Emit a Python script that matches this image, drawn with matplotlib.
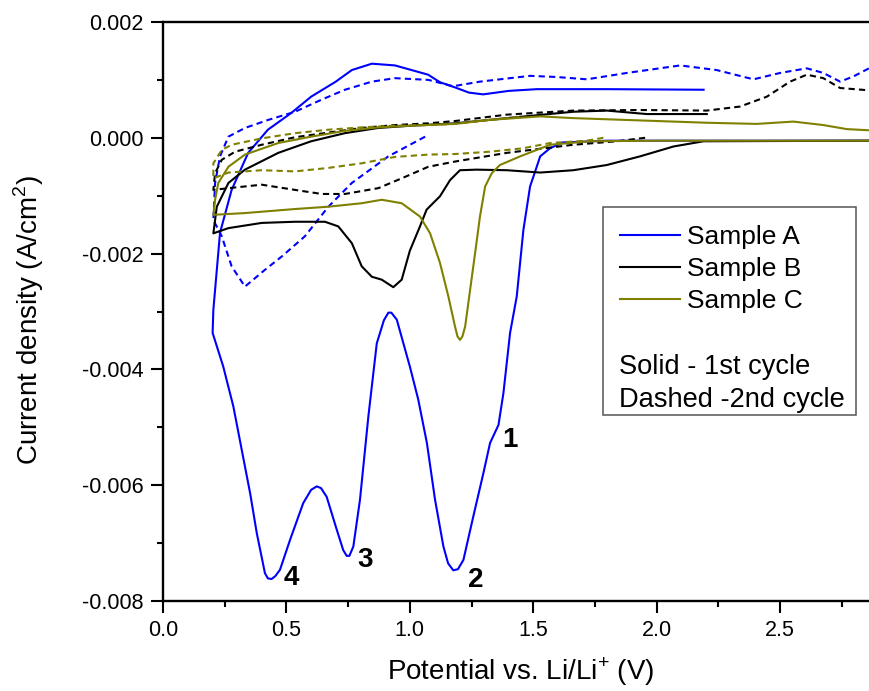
import matplotlib
matplotlib.use("Agg")
import matplotlib.pyplot as plt
from matplotlib import font_manager as fm
from matplotlib.patches import Rectangle
from matplotlib.ticker import MultipleLocator, FormatStrFormatter

# ---------------- data ----------------
# Sample A, 1st cycle (solid)
a1_x = [2.86, 2.2, 1.8, 1.62, 1.568, 1.528, 1.514, 1.487, 1.46, 1.433, 1.406, 1.379, 1.359, 1.325,
        1.298, 1.257, 1.217, 1.195, 1.176, 1.155, 1.136, 1.102, 1.069, 1.034, 1.0, 0.947, 0.925,
        0.913, 0.895, 0.866, 0.832, 0.798, 0.771, 0.755, 0.744, 0.73, 0.704, 0.663, 0.64, 0.623,
        0.60, 0.568, 0.515, 0.474, 0.455, 0.44, 0.425, 0.413, 0.38, 0.353, 0.319, 0.285, 0.244,
        0.201, 0.204, 0.231, 0.278, 0.345, 0.425, 0.52, 0.60, 0.70, 0.765, 0.846, 0.94, 1.074,
        1.122, 1.183, 1.24, 1.297, 1.4, 1.514, 1.8, 2.19]
a1_y = [-0.00005, -0.00005, -0.00005, -0.00008, -0.00018, -0.00032, -0.0005, -0.00084, -0.00159,
        -0.00274, -0.00337, -0.00441, -0.00496, -0.00527, -0.00579, -0.00654, -0.00729, -0.00745,
        -0.00747, -0.00735, -0.00706, -0.00625, -0.00527, -0.00452, -0.00395, -0.00314, -0.00302,
        -0.00302, -0.00315, -0.00355, -0.00481, -0.00625, -0.00706, -0.00722, -0.00722, -0.00712,
        -0.00677, -0.0062, -0.00605, -0.00602, -0.00608, -0.00631, -0.00694, -0.00746, -0.00757,
        -0.00762, -0.00761, -0.00752, -0.00683, -0.00614, -0.00539, -0.00464, -0.00395, -0.00337,
        -0.00297, -0.00164, -0.0009, -0.00026, 0.00014, 0.00043, 0.00071, 0.00097, 0.00117,
        0.00128, 0.00125, 0.00109, 0.00096, 0.00087, 0.00078, 0.00075, 0.00081, 0.00084, 0.00084,
        0.00083]

# Sample A, 2nd cycle (dashed)
a2_x = [1.062, 0.913, 0.765, 0.670, 0.575, 0.481, 0.413, 0.332, 0.278, 0.238, 0.204, 0.211, 0.231,
        0.265, 0.332, 0.427, 0.535, 0.643, 0.737, 0.846, 0.94, 1.075, 1.175, 1.284, 1.487, 1.595,
        1.717, 1.879, 2.095, 2.243, 2.392, 2.50, 2.608, 2.675, 2.743, 2.797, 2.86]
a2_y = [0.00002, -0.00032, -0.00078, -0.00119, -0.0017, -0.00205, -0.00228, -0.00257, -0.00222,
        -0.0017, -0.00142, -0.00078, -0.00032, 0.00002, 0.00017, 0.00031, 0.00045, 0.00066, 0.00083,
        0.00097, 0.00103, 0.0010, 0.00089, 0.00097, 0.00107, 0.00105, 0.00101, 0.00112, 0.00125,
        0.00117, 0.00101, 0.00112, 0.0012, 0.00112, 0.00097, 0.00106, 0.0012]

# Sample B, 1st cycle (solid)
b1_x = [2.86, 2.19, 2.068, 1.933, 1.798, 1.662, 1.528, 1.393, 1.27, 1.203, 1.163, 1.122, 1.068,
        1.041, 1.0, 0.967, 0.933, 0.886, 0.846, 0.805, 0.765, 0.71, 0.656, 0.535, 0.40, 0.265,
        0.204, 0.218, 0.265, 0.332, 0.467, 0.60, 0.737, 0.872, 1.008, 1.183, 1.393, 1.662, 1.798,
        1.96, 2.203]
b1_y = [-0.00005, -0.00006, -0.00015, -0.00032, -0.00047, -0.00056, -0.0006, -0.00056, -0.00055,
        -0.00056, -0.00073, -0.00101, -0.00124, -0.00153, -0.00195, -0.00245, -0.00258, -0.00245,
        -0.0024, -0.00222, -0.00182, -0.00153, -0.00145, -0.00145, -0.00147, -0.00156, -0.00165,
        -0.00119, -0.00078, -0.00055, -0.00026, -0.00006, 0.00008, 0.00017, 0.00021, 0.00025,
        0.00034, 0.00045, 0.00047, 0.00041, 0.00041]

# Sample B, 2nd cycle (dashed)
b2_x = [1.953, 1.838, 1.662, 1.393, 1.183, 1.075, 0.967, 0.872, 0.737, 0.643, 0.535, 0.40, 0.265,
        0.204, 0.211, 0.238, 0.292, 0.40, 0.535, 0.67, 0.805, 0.94, 1.075, 1.183, 1.393, 1.662,
        1.933, 2.203, 2.338, 2.446, 2.54, 2.608, 2.675, 2.743, 2.86]
b2_y = [0.0, -0.00006, -0.00012, -0.00026, -0.00041, -0.0005, -0.0007, -0.00087, -0.00097, -0.00097,
        -0.0009, -0.00081, -0.00087, -0.0009, -0.00061, -0.00038, -0.00024, -0.00012, 0.00001,
        0.00009, 0.00017, 0.00022, 0.00025, 0.00029, 0.0004, 0.00047, 0.00048, 0.00047, 0.00054,
        0.00071, 0.00097, 0.00109, 0.00103, 0.00086, 0.00082]

# Sample C, 1st cycle (solid)
c1_x = [2.86, 2.0, 1.73, 1.568, 1.447, 1.365, 1.332, 1.305, 1.284, 1.264, 1.244, 1.224, 1.213,
        1.203, 1.193, 1.183, 1.156, 1.122, 1.082, 1.041, 0.967, 0.886, 0.805, 0.67, 0.535, 0.332,
        0.204, 0.211, 0.224, 0.265, 0.332, 0.467, 0.60, 0.737, 0.872, 1.008, 1.183, 1.325, 1.528,
        1.662, 1.933, 2.203, 2.405, 2.554, 2.675, 2.77, 2.86]
c1_y = [-0.00005, -0.00005, -0.00006, -0.00012, -0.00032, -0.00047, -0.00061, -0.00084, -0.00136,
        -0.002, -0.00263, -0.00326, -0.00343, -0.00349, -0.00343, -0.00326, -0.00274, -0.00216,
        -0.00165, -0.00136, -0.00113, -0.00107, -0.00113, -0.00119, -0.00123, -0.0013, -0.00133,
        -0.00107, -0.00078, -0.0005, -0.00029, -0.00009, 0.00002, 0.00012, 0.00018, 0.00021,
        0.00024, 0.00031, 0.00037, 0.00034, 0.0003, 0.00026, 0.00024, 0.00028, 0.00022, 0.00015,
        0.00013]

# Sample C, 2nd cycle (dashed)
c2_x = [1.784, 1.717, 1.568, 1.46, 1.325, 1.183, 1.075, 0.94, 0.805, 0.67, 0.535, 0.40, 0.265,
        0.204, 0.204, 0.238, 0.278, 0.40, 0.535, 0.67, 0.805, 0.94, 1.075, 1.183, 1.325, 1.45]
c2_y = [0.0, -0.00005, -0.00009, -0.00018, -0.00024, -0.00028, -0.00029, -0.00033, -0.00044,
        -0.00052, -0.00058, -0.00056, -0.0006, -0.0007, -0.00044, -0.00021, -0.00012, -0.00001,
        0.00008, 0.00014, 0.00018, 0.00021, 0.00022, 0.00024, 0.00031, 0.00036]

series_names = ["Sample A", "Sample B", "Sample C"]
series_colors = ["#0000FF", "#000000", "#808000"]
peak_labels = ["1", "2", "3", "4"]
peak_x = [1.406, 1.268, 0.819, 0.521]
peak_y = [-0.00522, -0.00764, -0.00729, -0.00761]
note_lines = ["Solid - 1st cycle", "Dashed -2nd cycle"]

# ---------------- fonts ----------------
names = {f.name for f in fm.fontManager.ttflist}
REG = "Liberation Sans" if "Liberation Sans" in names else "DejaVu Sans"
plt.rcParams["font.family"] = [REG, "DejaVu Sans"]
plt.rcParams["axes.unicode_minus"] = False
plt.rcParams["mathtext.fontset"] = "custom"
plt.rcParams["mathtext.rm"] = REG

# ---------------- figure ----------------
fig = plt.figure(figsize=(8.69, 6.91), dpi=100)
ax = fig.add_axes([163 / 869, 1 - 601 / 691, (869 - 163) / 869, (601 - 22) / 691])

lw = 1.5
dash = (0, (3, 2))
data = [(a1_x, a1_y, a2_x, a2_y), (b1_x, b1_y, b2_x, b2_y), (c1_x, c1_y, c2_x, c2_y)]
handles = []
for (x1, y1, x2, y2), name, col in zip(data, series_names, series_colors):
    ax.plot(x2, y2, color=col, lw=lw, linestyle=dash, dash_joinstyle="round")
    h, = ax.plot(x1, y1, color=col, lw=lw, label=name, solid_joinstyle="round")
    handles.append(h)

ax.set_xlim(0, 2.86)
ax.set_ylim(-0.008, 0.002)

ax.xaxis.set_major_locator(MultipleLocator(0.5))
ax.xaxis.set_minor_locator(MultipleLocator(0.25))
ax.yaxis.set_major_locator(MultipleLocator(0.002))
ax.yaxis.set_minor_locator(MultipleLocator(0.001))
ax.xaxis.set_major_formatter(FormatStrFormatter("%.1f"))
ax.yaxis.set_major_formatter(FormatStrFormatter("%.3f"))
ax.tick_params(which="major", direction="out", length=8.4, width=1.5)
ax.tick_params(which="minor", direction="out", length=4.3, width=1.5)
ax.tick_params(axis="x", which="major", labelsize=15.5, pad=5)
ax.tick_params(axis="y", which="major", labelsize=15.5, pad=5.5)

for s in ["left", "bottom", "top"]:
    ax.spines[s].set_linewidth(1.7)
ax.spines["right"].set_visible(False)

ax.set_xlabel(r"Potential vs. Li/Li$^{+}$ (V)", fontsize=20)
ax.set_ylabel(r"Current density (A/cm$^{2}$)", fontsize=20)
ax.xaxis.set_label_coords(0.507, -0.095)
ax.yaxis.set_label_coords(-0.166, 0.485)

for t, px_, py_ in zip(peak_labels, peak_x, peak_y):
    ax.text(px_, py_, t, fontsize=20, fontweight="bold", ha="center", va="center")

# legend box
ax.add_patch(Rectangle((0.6228, 0.3212), 0.3588, 0.3598, transform=ax.transAxes,
                       fill=True, facecolor="white", edgecolor="#555555", lw=1.1, zorder=5))
leg = ax.legend(handles=handles, loc="upper left", bbox_to_anchor=(0.6393, 0.6588),
                frameon=False, fontsize=19, handlelength=2.27, handletextpad=0.29,
                labelspacing=0.31, borderaxespad=0, borderpad=0.2)
leg.set_zorder(6)
for i, (t, yy) in enumerate(zip(note_lines, [0.4047, 0.347])):
    ax.text(0.646, yy, t, transform=ax.transAxes, fontsize=19.6,
            ha="left", va="center", zorder=7)

fig.savefig("out.png", dpi=100)
